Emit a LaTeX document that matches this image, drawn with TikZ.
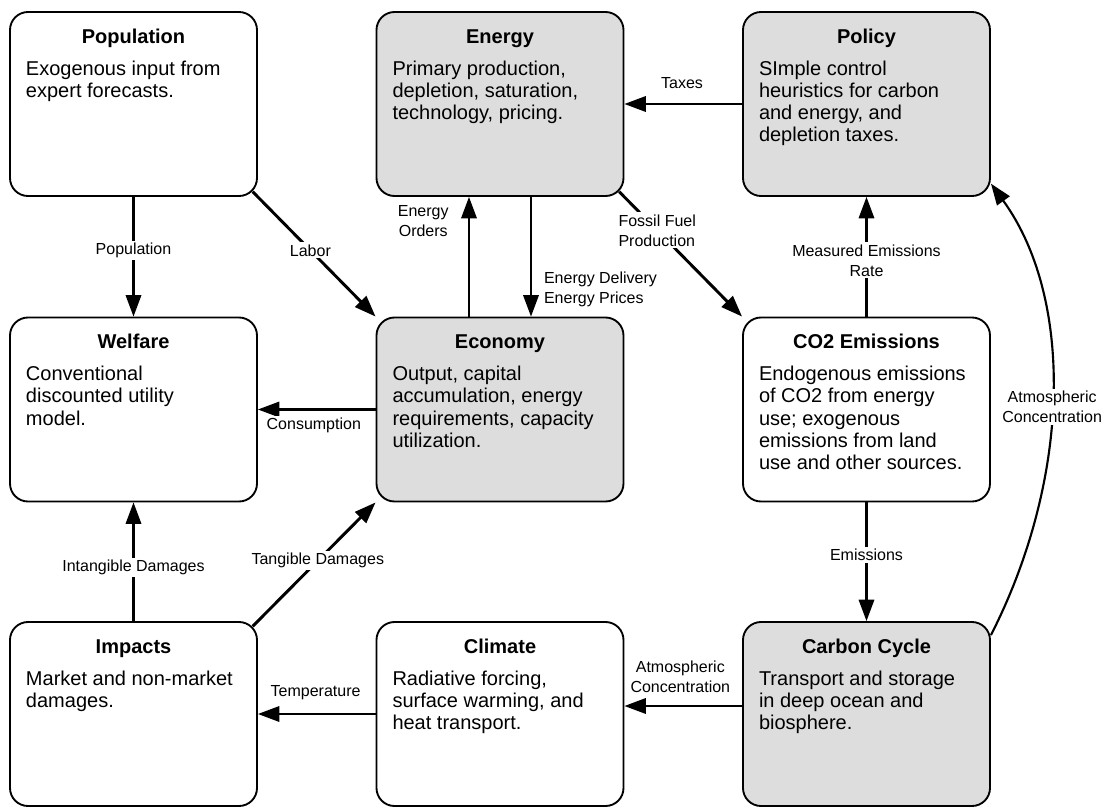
\documentclass[tikz,border=0pt]{standalone}
\usepackage{fontspec}
\setmainfont{Liberation Sans}
\usetikzlibrary{arrows.meta}
\definecolor{modulegray}{RGB}{221,221,221}

\newcommand{\modtext}[2]{\parbox[c][138pt][t]{161.25pt}{%
  \centering\fontsize{15}{16.7}\selectfont\rule{0pt}{23.25pt}\textbf{#1}\par
  \vspace{7.3pt}\raggedright #2}}

\tikzset{
  module/.style={draw, line width=1.4pt, fill=white, rounded corners=13.5pt,
    inner sep=0pt, minimum width=185.25pt, minimum height=138pt},
  shaded/.style={module, fill=modulegray},
  flow/.style={line width=1.6pt, -{Triangle[length=16pt,width=11.5pt]}},
  heavy/.style={flow, line width=2.2pt},
  lbl/.style={fill=white, inner sep=1.5pt, align=center,
    font=\fontsize{12}{15}\selectfont},
}

\begin{document}
\begin{tikzpicture}[x=0.75pt, y=-0.75pt]
  \useasboundingbox (0,0) rectangle (1104,808);

  \node[module] (pop) at (133.5,104) {\modtext{Population}{Exogenous input from\\expert forecasts.}};
  \node[shaded] (energy) at (500,104) {\modtext{Energy}{Primary production,\\depletion, saturation,\\technology, pricing.}};
  \node[shaded] (policy) at (866.5,104) {\modtext{Policy}{SImple control\\heuristics for carbon\\and energy, and\\depletion taxes.}};

  \node[module] (welfare) at (133.5,409.5) {\modtext{Welfare}{Conventional\\discounted utility\\model.}};
  \node[shaded] (econ) at (500,409.5) {\modtext{Economy}{Output, capital\\accumulation, energy\\requirements, capacity\\utilization.}};
  \node[module] (co2) at (866.5,409.5) {\modtext{CO2 Emissions}{Endogenous emissions\\of CO2 from energy\\use; exogenous\\emissions from land\\use and other sources.}};

  \node[module] (impacts) at (133.5,714) {\modtext{Impacts}{Market and non-market\\damages.}};
  \node[module] (climate) at (500,714) {\modtext{Climate}{Radiative forcing,\\surface warming, and\\heat transport.}};
  \node[shaded] (carbon) at (866.5,714) {\modtext{Carbon Cycle}{Transport and storage\\in deep ocean and\\biosphere.}};

  \draw[flow] (pop) -- (welfare) node[lbl, pos=0.45] {Population};
  \draw[heavy] ([shift={(-5.3,-5.3)}]pop.south east) -- (econ.north west) node[lbl, pos=0.47] {Labor};
  \draw[flow] ([xshift=-23.25pt]econ.north) -- ([xshift=-23.25pt]energy.south)
    node[lbl, pos=0.8, anchor=east, xshift=-13pt] {Energy\\Orders};
  \draw[flow] ([xshift=23.25pt]energy.south) -- ([xshift=23.25pt]econ.north)
    node[lbl, pos=0.77, anchor=west, xshift=7.5pt, align=left] {Energy Delivery\\Energy Prices};
  \draw[heavy] ([shift={(-5.3,-5.3)}]energy.south east) -- (co2.north west)
    node[lbl, pos=0.31, align=left] {Fossil Fuel\\Production};
  \draw[flow] (policy) -- (energy) node[lbl, pos=0.51, yshift=16pt] {Taxes};
  \draw[flow] (co2) -- (policy) node[lbl, pos=0.47] {Measured Emissions\\Rate};

  \draw[flow] (econ) -- (welfare) node[lbl, pos=0.525, yshift=-12pt] {Consumption};
  \draw[flow] (co2) -- (carbon) node[lbl, pos=0.44] {Emissions};
  \draw[flow] ([yshift=-10.5pt]carbon.north east) .. controls (1070,480) and (1075,300) .. ([yshift=10pt]policy.south east)
    node[lbl, pos=0.5, yshift=-9pt] {Atmospheric\\Concentration};

  \draw[flow] ([yshift=6pt]carbon.west) -- ([yshift=6pt]climate.east)
    node[lbl, pos=0.525, yshift=21.75pt] {Atmospheric\\Concentration};
  \draw[flow] (climate) -- (impacts) node[lbl, pos=0.51, yshift=15.75pt] {Temperature};
  \draw[flow] (impacts) -- (welfare) node[lbl, pos=0.45] {Intangible Damages};
  \draw[heavy] ([shift={(-5.3,5.3)}]impacts.north east) -- (econ.south west)
    node[lbl, pos=0.53] {Tangible Damages};
\end{tikzpicture}
\end{document}
